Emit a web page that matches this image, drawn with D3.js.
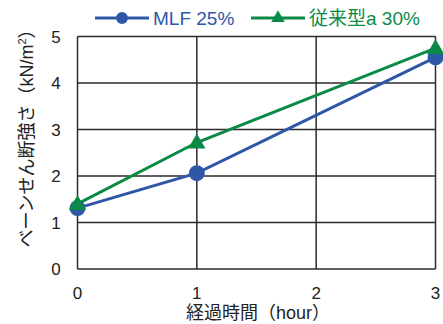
<!DOCTYPE html>
<html>
<head>
<meta charset="utf-8">
<script src="https://cdn.jsdelivr.net/npm/d3@7"></script>
<style>
  html, body { margin: 0; padding: 0; background: #fff; }
  svg { display: block; }
  text { font-family: "Liberation Sans", Arial, "Noto Sans CJK JP", sans-serif; }
</style>
</head>
<body>
<svg id="chart" width="443" height="324"></svg>
<script>
// Elapsed time (hours) and vane shear strength (kN/m²)
const hours = [0, 1, 2, 3];
const xTickLabels = ["0", "1", "2", "3"];
const yTicks = [0, 1, 2, 3, 4, 5];
const mlfTimes = [0, 1, 3];
const mlfValues = [1.31, 2.06, 4.55];
const convTimes = [0, 1, 3];
const convValues = [1.4, 2.72, 4.75];
const seriesNames = ["MLF 25%", "従来型a 30%"];

(function () {
const blue = "#2f57a8";
const green = "#0b8a47";
const gridColor = "#2b2b2b";
const textColor = "#222";

const svg = d3.select("#chart");
const plotLeft = 77.5, plotRight = 435.5, plotTop = 36.5, plotBottom = 269;

const x = d3.scaleLinear().domain([0, 3]).range([plotLeft, plotRight]);
const y = d3.scaleLinear().domain([0, 5]).range([plotBottom, plotTop]);

// grid lines and frame
const g = svg.append("g");
g.selectAll(".hgrid").data(yTicks).join("line")
  .attr("x1", plotLeft).attr("x2", plotRight)
  .attr("y1", d => y(d)).attr("y2", d => y(d))
  .attr("stroke", gridColor).attr("stroke-width", 1.5);
g.selectAll(".vgrid").data(hours).join("line")
  .attr("x1", d => x(d)).attr("x2", d => x(d))
  .attr("y1", plotTop).attr("y2", plotBottom)
  .attr("stroke", gridColor).attr("stroke-width", 1.5);

// tick labels
svg.append("g").selectAll("text").data(yTicks).join("text")
  .attr("x", 56).attr("y", d => y(d) + 6)
  .attr("text-anchor", "middle")
  .attr("font-size", 17).attr("fill", textColor)
  .text(d => d);
svg.append("g").selectAll("text").data(hours).join("text")
  .attr("x", d => x(d)).attr("y", 299)
  .attr("text-anchor", "middle")
  .attr("font-size", 17).attr("fill", textColor)
  .text((d, i) => xTickLabels[i]);

// axis titles
svg.append("text")
  .attr("x", 258).attr("y", 319)
  .attr("text-anchor", "middle")
  .attr("font-size", 18).attr("fill", textColor)
  .text("経過時間（hour）");
const yTitle = svg.append("text")
  .attr("transform", "translate(33,134) rotate(-90)")
  .attr("text-anchor", "middle")
  .attr("font-size", 18).attr("fill", textColor);
yTitle.append("tspan").text("ベーンせん断強さ（kN/m");
yTitle.append("tspan").attr("dy", -7).attr("font-size", 11).text("2");
yTitle.append("tspan").attr("dy", 7).text("）");

// series lines
const line = d3.line().x(d => x(d[0])).y(d => y(d[1]));
const mlf = mlfTimes.map((t, i) => [t, mlfValues[i]]);
const conv = convTimes.map((t, i) => [t, convValues[i]]);

svg.append("path").datum(mlf).attr("d", line)
  .attr("fill", "none").attr("stroke", blue).attr("stroke-width", 3);
svg.append("path").datum(conv).attr("d", line)
  .attr("fill", "none").attr("stroke", green).attr("stroke-width", 3);

const tri = d3.symbol().type(d3.symbolTriangle).size(130);
const circ = d3.symbol().type(d3.symbolCircle).size(200);

svg.append("g").selectAll("path").data(mlf).join("path")
  .attr("d", circ)
  .attr("transform", d => `translate(${x(d[0])},${y(d[1])})`)
  .attr("fill", blue);
svg.append("g").selectAll("path").data(conv).join("path")
  .attr("d", tri)
  .attr("transform", d => `translate(${x(d[0])},${y(d[1]) + 1})`)
  .attr("fill", green);

// legend
const legend = svg.append("g");
legend.append("line").attr("x1", 95).attr("x2", 149).attr("y1", 18).attr("y2", 18)
  .attr("stroke", blue).attr("stroke-width", 3);
legend.append("path").attr("d", d3.symbol().type(d3.symbolCircle).size(110))
  .attr("transform", "translate(122,18)").attr("fill", blue);
legend.append("text").attr("x", 153).attr("y", 25)
  .attr("font-size", 19).attr("fill", blue).text(seriesNames[0]);
legend.append("line").attr("x1", 251).attr("x2", 305).attr("y1", 18).attr("y2", 18)
  .attr("stroke", green).attr("stroke-width", 3);
legend.append("path").attr("d", d3.symbol().type(d3.symbolTriangle).size(80))
  .attr("transform", "translate(278,18)").attr("fill", green);
legend.append("text").attr("x", 309).attr("y", 25)
  .attr("font-size", 19).attr("fill", green).text(seriesNames[1]);
})();
</script>
</body>
</html>
